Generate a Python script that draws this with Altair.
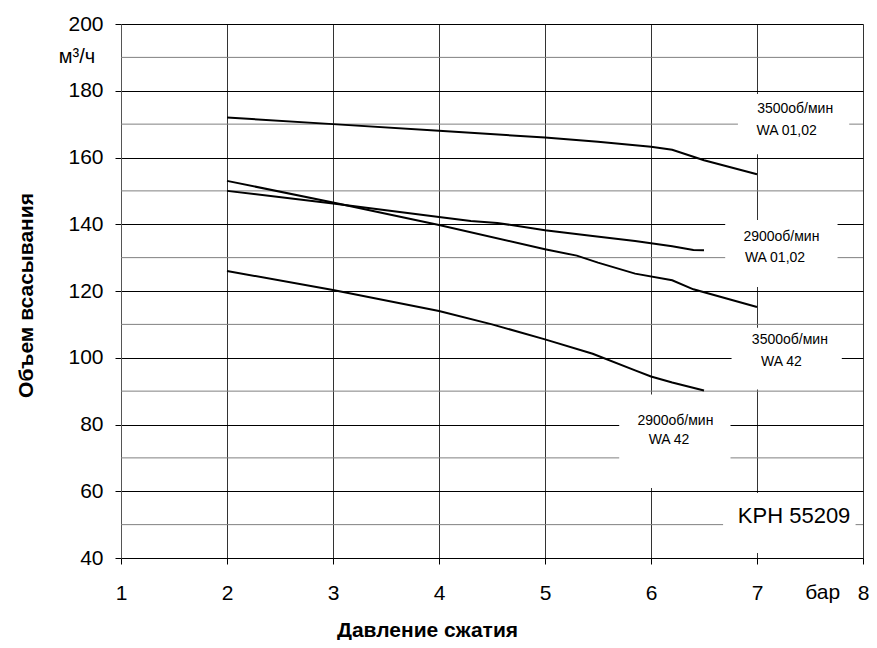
import altair as alt
import pandas as pd

# ---- data ----
series_names = ["3500об/мин WA 01,02", "2900об/мин WA 01,02", "3500об/мин WA 42", "2900об/мин WA 42"]

p_3500_0102 = [2, 3, 4, 5, 5.5, 6, 6.2, 6.5, 7]
q_3500_0102 = [172, 170, 168, 166, 164.7, 163.2, 162.3, 159.2, 155]

p_2900_0102 = [2, 3, 4, 4.3, 4.55, 5, 5.45, 5.85, 6.2, 6.4, 6.5]
q_2900_0102 = [150, 146.2, 142.2, 141, 140.4, 138.2, 136.5, 135, 133.4, 132.3, 132.2]

p_3500_42 = [2, 3, 4, 5, 5.3, 5.5, 5.85, 6.2, 6.4, 7]
q_3500_42 = [153, 146.5, 139.8, 132.5, 130.6, 128.5, 125.2, 123.2, 120.5, 115.2]

p_2900_42 = [2, 3, 4, 4.5, 5, 5.45, 5.85, 6, 6.2, 6.5]
q_2900_42 = [126, 120.3, 114, 110, 105.5, 101.2, 96.2, 94.4, 92.6, 90.2]

x_ticks = [1, 2, 3, 4, 5, 6, 7, 8]
y_ticks = [40, 60, 80, 100, 120, 140, 160, 180, 200]
y_minor = [50, 70, 90, 110, 130, 150, 170, 190]

ann_text = ["3500об/мин", "WA 01,02", "2900об/мин", "WA 01,02",
            "3500об/мин", "WA 42", "2900об/мин", "WA 42"]
ann_x = [7.36, 7.28, 7.23, 7.17, 7.31, 7.23, 6.23, 6.17]
ann_y = [174.5, 168, 136.2, 130, 105.3, 98.8, 81.1, 75.4]

box_x1 = [6.82, 6.70, 6.76, 5.70, 6.68]
box_x2 = [7.87, 7.76, 7.80, 6.75, 7.93]
box_y1 = [161, 121.2, 90.5, 61, 41.5]
box_y2 = [179, 141.3, 109, 89, 59.5]

model_label = ["KPH 55209"]
model_x = [7.35]
model_y = [52.6]

# ---- tables ----
pairs = [(p_3500_0102, q_3500_0102), (p_2900_0102, q_2900_0102),
         (p_3500_42, q_3500_42), (p_2900_42, q_2900_42)]
rows = []
for name, (ps, qs) in zip(series_names, pairs):
    for i, (p, q) in enumerate(zip(ps, qs)):
        rows.append({"series": name, "p": p, "q": q, "order": i})
curves = pd.DataFrame(rows)
ann = pd.DataFrame({"t": ann_text, "x": ann_x, "y": ann_y})
boxes = pd.DataFrame({"x1": box_x1, "x2": box_x2, "y1": box_y1, "y2": box_y2})
minor = pd.DataFrame({"y": y_minor})
model = pd.DataFrame({"t": model_label, "x": model_x, "y": model_y})

FONT = "Liberation Sans"
W, H = 742, 534
xs = alt.Scale(domain=[1, 8], nice=False, zero=False)
ys = alt.Scale(domain=[40, 200], nice=False, zero=False)

x_axis = alt.Axis(values=x_ticks, format="d", grid=True, gridColor="#333333", gridWidth=1,
                  tickColor="black", tickSize=6, domainColor="black",
                  labelFont=FONT, labelFontSize=21, labelColor="black",
                  labelPadding=18, labelFlush=False, labelOverlap=False,
                  title="Давление сжатия", titleFont=FONT, titleFontSize=21,
                  titleFontWeight="bold", titleColor="black",
                  titleX=306, titleY=78, titleAlign="center",
                  titleBaseline="alphabetic")
y_axis = alt.Axis(values=y_ticks, format="d", grid=True, gridColor="black", gridWidth=1,
                  tickColor="black", tickSize=6, domainColor="#555555",
                  labelFont=FONT, labelFontSize=21, labelColor="black",
                  labelPadding=12, labelOverlap=False,
                  title="Объем всасывания", titleFont=FONT, titleFontSize=21,
                  titleFontWeight="bold", titleColor="black",
                  titleX=-89, titleY=271, titleAlign="center",
                  titleBaseline="alphabetic", titleAngle=270)

minor_rules = alt.Chart(minor).mark_rule(color="#808080", strokeWidth=1).encode(
    y=alt.Y("y:Q", scale=ys, axis=y_axis),
    x=alt.value(0), x2=alt.value(W))

rects = alt.Chart(boxes).mark_rect(fill="white").encode(
    x=alt.X("x1:Q", scale=xs, axis=x_axis), x2="x2:Q",
    y=alt.Y("y1:Q", scale=ys), y2="y2:Q")

lines = alt.Chart(curves).mark_line(color="black", strokeWidth=2).encode(
    x=alt.X("p:Q", scale=xs),
    y=alt.Y("q:Q", scale=ys),
    detail="series:N", order="order:Q")

labels = alt.Chart(ann).mark_text(font=FONT, fontSize=14, color="black",
                                  align="center", baseline="middle").encode(
    x=alt.X("x:Q", scale=xs), y=alt.Y("y:Q", scale=ys), text="t:N")

model_text = alt.Chart(model).mark_text(font=FONT, fontSize=22, color="black",
                                        align="center", baseline="middle").encode(
    x=alt.X("x:Q", scale=xs), y=alt.Y("y:Q", scale=ys), text="t:N")

unit_y = alt.Chart(pd.DataFrame({"t": ["м³/ч"]})).mark_text(
    font=FONT, fontSize=20, color="black", align="center", baseline="middle").encode(
    x=alt.value(-44), y=alt.value(33), text="t:N")

unit_x = alt.Chart(pd.DataFrame({"t": ["бар"]})).mark_text(
    font=FONT, fontSize=21, color="black", align="center", baseline="alphabetic").encode(
    x=alt.datum(7.62, scale=xs), y=alt.value(575), text="t:N")

chart = alt.layer(minor_rules, rects, lines, labels, model_text, unit_y, unit_x).properties(
    width=W, height=H,
    autosize=alt.AutoSizeParams(type="none"),
    padding={"left": 113, "top": 16, "right": 6, "bottom": 82},
    background="white",
).configure_view(stroke=None)

chart.save("out.html", embed_options={"renderer": "svg", "actions": False})
